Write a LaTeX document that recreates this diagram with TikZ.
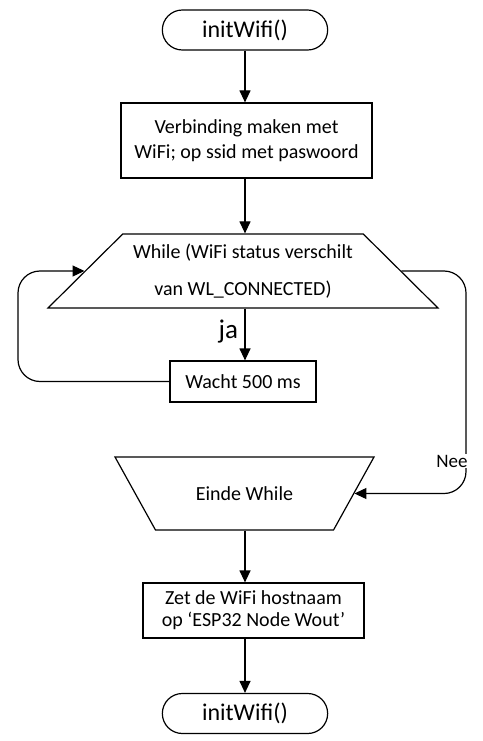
\documentclass[tikz,border=0pt]{standalone}
\usepackage{fontspec}
\setmainfont{Carlito}
\usetikzlibrary{shapes.geometric,shapes.misc,arrows.meta}
\begin{document}
\begin{tikzpicture}[x=1pt, y=-1pt, >={Triangle[length=12pt,width=11pt]}, line width=1.2pt,
	term/.style={draw, rounded rectangle, minimum width=172pt, minimum height=40pt, font=\fontsize{24}{26}\selectfont},
	box/.style={draw, rectangle, align=center, inner sep=2pt, font=\fontsize{20}{25}\selectfont},
	lus/.style={draw, trapezium, trapezium stretches body, inner sep=2pt, align=center, font=\fontsize{20}{37}\selectfont}]
	\useasboundingbox (0,0) rectangle (482,741);
	\node[term] (begin) at (245,30) {initWifi()};
	\node[box, minimum width=251pt, minimum height=75pt] (verbind) at (246.5,140.5) {Verbinding maken met\\WiFi; op ssid met paswoord};
	\node[lus, trapezium angle=38, minimum width=390pt, minimum height=74pt] (while) at (243,271) {While (WiFi status verschilt\\van WL\_CONNECTED)};
	\node[box, minimum width=146pt, minimum height=41pt] (wacht) at (243,381.5) {Wacht 500 ms};
	\node[lus, trapezium angle=156, minimum width=259pt, minimum height=73pt] (einde) at (244.5,493.5) {Einde While};
	\node[box, minimum width=221pt, minimum height=55pt, font=\fontsize{20}{22}\selectfont] (zet) at (253.5,610.5) {Zet de WiFi hostnaam\\op ‘ESP32 Node Wout’};
	\node[term] (eind) at (245,713.5) {initWifi()};
	\draw[->] (begin.south) -- (begin.south |- verbind.north);
	\draw[->] (begin.south |- verbind.south) -- (begin.south |- while.north);
	\draw[->] (begin.south |- while.south) -- (begin.south |- wacht.north) node[pos=0.45, left=3pt, font=\fontsize{27}{28}\selectfont] {ja};
	\draw[->, rounded corners=22pt] (wacht.west) -- (18,381.5) -- (18,271) -- (while.left side);
	\draw[->, rounded corners=22pt] (while.right side) -- (466,271) -- (466,493.5) -- (einde.right side);
	\node[fill=white, inner sep=1pt, font=\fontsize{19}{20}\selectfont] (nee) at (452,461) {Nee};
	\draw[->] (begin.south |- einde.south) -- (begin.south |- zet.north);
	\draw[->] (begin.south |- zet.south) -- (eind.north);
\end{tikzpicture}
\end{document}
